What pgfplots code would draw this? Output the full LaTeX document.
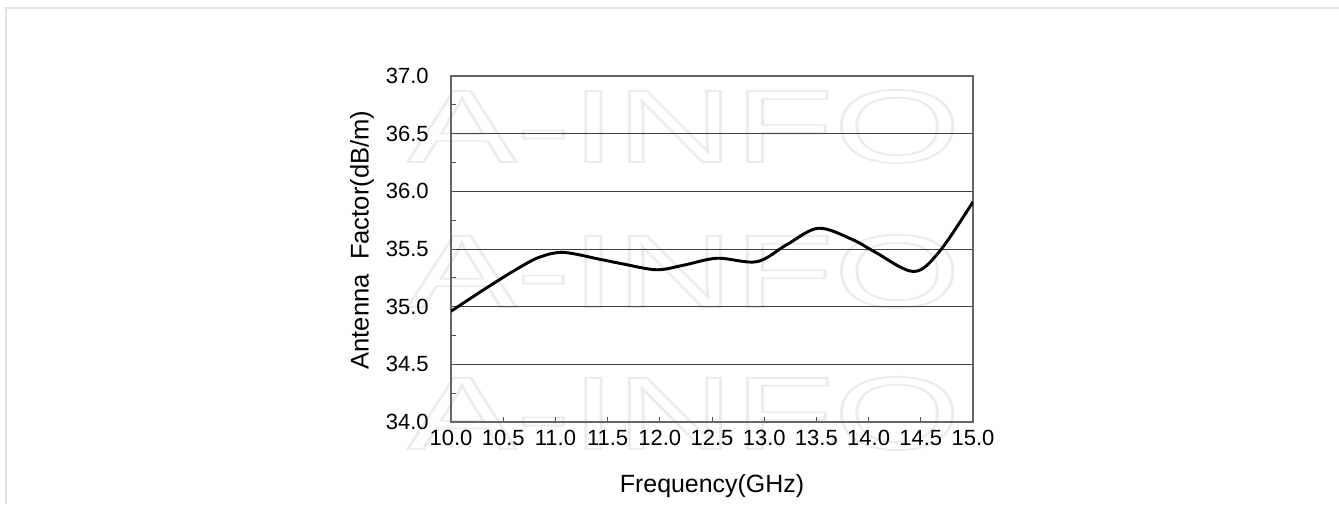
\documentclass[border=0pt]{standalone}
\usepackage{fontspec}
\setmainfont{Liberation Sans}
\usepackage{pgfplots}
\pgfplotsset{compat=1.18}
\newcommand{\outlined}[1]{\special{pdf:literal direct 1 Tr 1.4 w 0.925 G}#1\special{pdf:literal direct 0 Tr}}
\begin{document}
\begin{tikzpicture}[x=1pt,y=1pt]
\useasboundingbox (0,0) rectangle (1004.25,378);
\fill[white] (0,0) rectangle (1004.25,378);
\draw[line width=1.5pt, black!12] (4.5,0) -- (4.5,372) -- (1004.25,372);
% watermark
\foreach \yy in {256.5,147.75,41.25}{
  \node[anchor=base west, inner sep=0pt, xscale=1.58, font=\fontsize{77.5}{80}\selectfont] at (305.25,\yy)
  {\outlined{A-INFO}};
}
\begin{axis}[
  at={(338.25pt,61.5pt)}, anchor=south west,
  scale only axis, width=391.5pt, height=259.5pt,
  xmin=10, xmax=15, ymin=34, ymax=37,
  xtick={10,10.5,...,15}, ytick={34,34.5,...,37},
  minor y tick num=1,
  tick align=inside, xtick pos=bottom, ytick pos=left,
  major tick length=4pt, minor tick length=4pt,
  axis line style={black!60, line width=0.8pt},
  every tick/.style={black!70, line width=0.6pt},
  ymajorgrids, major grid style={black!75, line width=0.7pt},
  /pgf/number format/assume math mode=true,
  xticklabel={\pgfmathprintnumber[fixed,fixed zerofill,precision=1]{\tick}},
  yticklabel={\pgfmathprintnumber[fixed,fixed zerofill,precision=1]{\tick}},
  tick label style={font=\fontsize{16.5}{18}\selectfont},
  xticklabel style={yshift=-2.75pt},
  yticklabel style={xshift=-13.25pt},
  xlabel={Frequency(GHz)},
  ylabel={Antenna\ \ Factor(dB/m)},
  xlabel style={font=\fontsize{18.7}{20}\selectfont, at={(axis description cs:0.5,-0.185)}, anchor=center},
  ylabel style={font=\fontsize{19.2}{20}\selectfont, at={(axis description cs:-0.1705,0.526)}, anchor=center},
]
\addplot[black, line width=2.2pt, smooth, tension=0.55] coordinates {
(10.0,34.96) (10.31,35.145) (10.63,35.326) (10.85,35.43) (11.08,35.47)
(11.43,35.41) (11.65,35.37) (11.97,35.32) (12.23,35.36) (12.55,35.42)
(12.93,35.39) (13.22,35.54) (13.52,35.68) (13.85,35.58) (14.05,35.48)
(14.43,35.305) (14.68,35.48) (15.0,35.91)
};
\end{axis}
\end{tikzpicture}
\end{document}
